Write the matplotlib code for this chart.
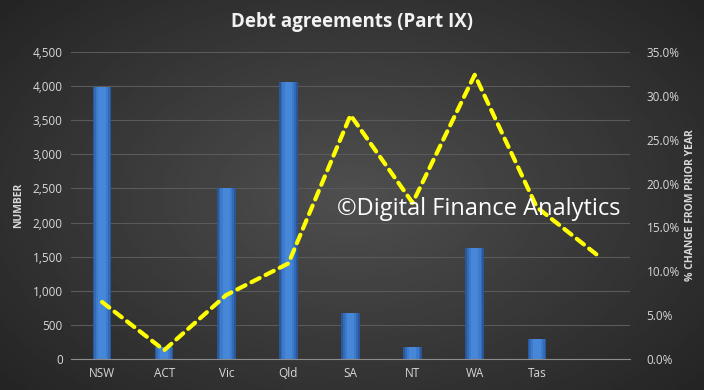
import numpy as np
import matplotlib
matplotlib.use("Agg")
import matplotlib.pyplot as plt
from matplotlib.ticker import FuncFormatter

# Werte
states = ['NSW', 'ACT', 'Vic', 'Qld', 'SA', 'NT', 'WA', 'Tas', '']
numbers = [3990, 170, 2510, 4065, 680, 180, 1630, 295, np.nan]
pct_change = [6.5, 1.0, 7.3, 10.9, 27.8, 17.8, 32.4, 17.3, 11.7]

plt.rcParams['font.family'] = ['Open Sans', 'DejaVu Sans']
txt = '#d9d9d9'

fig = plt.figure(figsize=(7.04, 3.9), dpi=100)

# Hintergrund mit radialem Verlauf
bg = fig.add_axes([0, 0, 1, 1], zorder=-10)
yy, xx = np.mgrid[-1:1:200j, -1:1:360j]
r = np.sqrt((xx * 0.9) ** 2 + (yy * 0.8) ** 2)
shade = 0.31 - 0.14 * np.clip(r, 0, 1.3)
bg.imshow(shade, cmap='gray', vmin=0, vmax=1, aspect='auto', extent=[0, 1, 0, 1])
bg.axis('off')

ax = fig.add_axes([71 / 704, 1 - 359 / 390, (630 - 71) / 704, (359 - 52) / 390])
ax.patch.set_alpha(0)
x = np.arange(len(states))

# Balken: mehrere Schichten fuer hellere Mitte
for w, c in [(0.3, '#2a5798'), (0.25, '#336ab8'), (0.19, '#3d7acb'), (0.12, '#4787d8')]:
    ax.bar(x, numbers, width=w, color=c, zorder=2)
ax.set_xlim(-0.5, len(states) - 0.5)
ax.set_ylim(0, 4500)
ax.set_yticks(range(0, 4501, 500))
ax.yaxis.set_major_formatter(FuncFormatter(lambda v, p: f'{int(v):,}'))
ax.grid(axis='y', color='#5a5a5a', linewidth=0.8, zorder=0)
ax.set_axisbelow(True)
ax.set_xticks(x)
ax.set_xticklabels(states)
for s in ['top', 'right', 'left']:
    ax.spines[s].set_visible(False)
ax.spines['bottom'].set_color('#8c8c8c')
ax.tick_params(colors=txt, labelsize=8.5, length=0, pad=6)
ax.set_ylabel('NUMBER', color=txt, fontsize=7.5, fontweight='bold', labelpad=6)

ax2 = ax.twinx()
ax2.plot(x, pct_change, color='#ffff00', linewidth=3, linestyle=(0, (2.2, 1.6)),
         dash_capstyle='round', zorder=5)
ax2.set_ylim(0, 35)
ax2.set_yticks(np.arange(0, 35.1, 5))
ax2.yaxis.set_major_formatter(FuncFormatter(lambda v, p: f'{v:.1f}%'))
for s in ax2.spines.values():
    s.set_visible(False)
ax2.tick_params(colors=txt, labelsize=8.5, length=0, pad=12)
ax2.set_ylabel('% CHANGE FROM PRIOR YEAR', color=txt, fontsize=7.5,
               fontweight='bold', labelpad=4)

fig.text(0.5, 1 - 22 / 390, 'Debt agreements (Part IX)', ha='center', va='center',
         color='#f2f2f2', fontsize=13.5, fontweight='bold')
fig.text(337 / 704, 1 - 209 / 390, '\u00a9Digital Finance Analytics', ha='left',
         va='center', color='white', fontsize=17, zorder=10)

fig.savefig('out.png', dpi=100)
